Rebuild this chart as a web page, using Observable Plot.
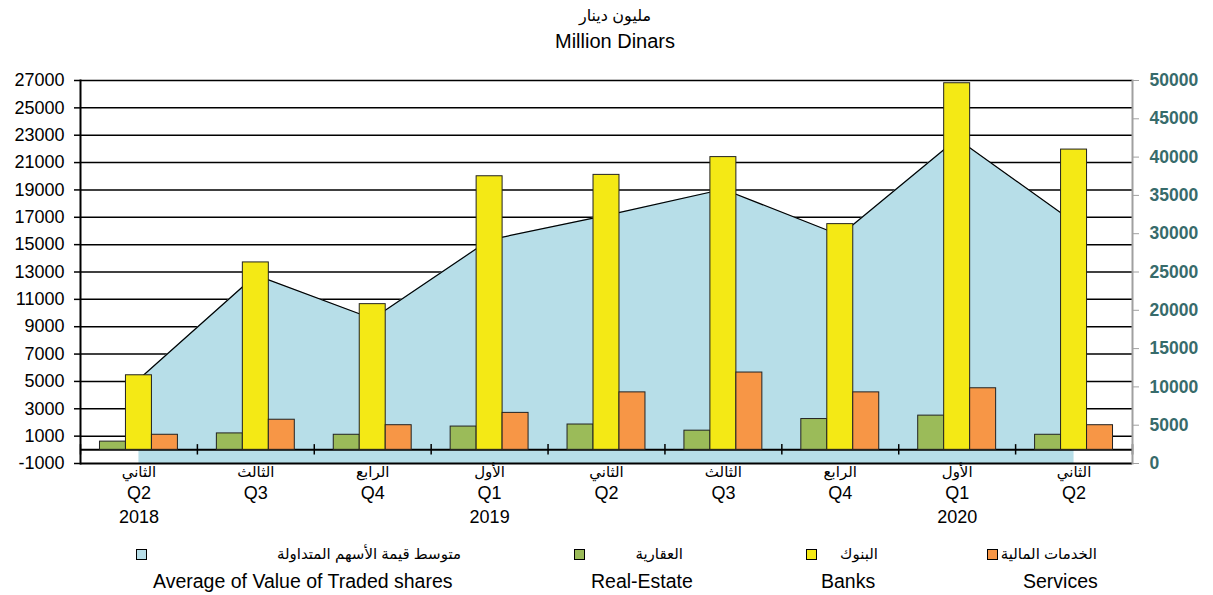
<!DOCTYPE html>
<html>
<head>
<meta charset="utf-8">
<script src="https://cdn.jsdelivr.net/npm/d3@7"></script>
<script src="https://cdn.jsdelivr.net/npm/@observablehq/plot@0.6"></script>
<style>
  body { margin: 0; background: #fff; font-family: "Liberation Sans", Arial, "DejaVu Sans", sans-serif; }
  #wrap { position: relative; width: 1213px; height: 595px; overflow: hidden; }
  #title { position: relative; width: 1213px; height: 60px; }
  #title .ar { position: absolute; left: 415px; width: 400px; top: 6px; text-align: center; font-size: 16px; color: #000; direction: rtl; }
  #title .en { position: absolute; left: 415px; width: 400px; top: 30px; text-align: center; font-size: 20px; color: #000; }
  #chart { position: relative; height: 470px; }
  #legend { position: relative; width: 1213px; height: 65px; }
  .sw { position: absolute; width: 9px; height: 9px; border: 1px solid #000; top: 19px; }
  .lar { position: absolute; top: 14px; font-size: 15px; direction: rtl; white-space: nowrap; color: #000; line-height: 20px; }
  .len { position: absolute; top: 40px; font-size: 19.5px; white-space: nowrap; color: #000; line-height: 22px; }
</style>
</head>
<body>
<div id="wrap">
  <div id="title">
    <div class="ar">مليون دينار</div>
    <div class="en">Million Dinars</div>
  </div>
  <div id="chart"></div>
  <div id="legend"></div>
</div>
<script>
// ---- Data ----
const periods = ["2018Q2", "2018Q3", "2018Q4", "2019Q1", "2019Q2", "2019Q3", "2019Q4", "2020Q1", "2020Q2"];
const quarterLabels = ["Q2", "Q3", "Q4", "Q1", "Q2", "Q3", "Q4", "Q1", "Q2"];
const quarterArabic = ["الثاني", "الثالث", "الرابع", "الأول", "الثاني", "الثالث", "الرابع", "الأول", "الثاني"];
const yearLabels = ["2018", "", "", "2019", "", "", "", "2020", ""];

const realEstate = [600, 1200, 1100, 1700, 1850, 1400, 2250, 2500, 1100];
const banks = [5450, 13700, 10650, 20000, 20100, 21400, 16500, 26800, 21950];
const services = [1100, 2200, 1800, 2700, 4200, 5650, 4200, 4500, 1800];
// right axis series
const avgTraded = [11000, 24600, 18900, 29200, 32400, 35800, 29800, 42400, 31500];

const leftTicks = [-1000, 1000, 3000, 5000, 7000, 9000, 11000, 13000, 15000, 17000, 19000, 21000, 23000, 25000, 27000];
const rightTicks = [0, 5000, 10000, 15000, 20000, 25000, 30000, 35000, 40000, 45000, 50000];

const seriesNames = {
  avg: ["متوسط قيمة الأسهم المتداولة", "Average of Value of Traded shares"],
  re: ["العقارية", "Real-Estate"],
  banks: ["البنوك", "Banks"],
  services: ["الخدمات المالية", "Services"]
};
const colors = { avg: "#b7dee8", re: "#9bbb59", banks: "#f4e915", services: "#f79646" };

// ---- Layout ----
const W = 1213, H = 470, mL = 80, mR = 81, mT = 20, mB = 67;
const bw = (W - mL - mR) / periods.length;
const leftMin = -1000, leftMax = 27000, rightMax = 50000;
const toLeft = v => leftMin + v * (leftMax - leftMin) / rightMax;

const rows = periods.map((k, i) => ({
  k, re: realEstate[i], b: banks[i], s: services[i], a: toLeft(avgTraded[i]),
  q: quarterLabels[i], qa: quarterArabic[i], yr: yearLabels[i]
}));

const font = '"Liberation Sans", Arial, "DejaVu Sans", sans-serif';

const chart = Plot.plot({
  width: W, height: H,
  marginLeft: mL, marginRight: mR, marginTop: mT, marginBottom: mB,
  x: { type: "band", domain: periods, padding: 0, round: false, axis: null },
  y: { domain: [leftMin, leftMax], axis: null },
  style: { fontFamily: font, background: "white", color: "#000" },
  marks: [
    Plot.ruleY(leftTicks.filter(d => d > leftMin), { stroke: "#000", strokeWidth: 1.5 }),
    Plot.areaY(rows, { x: "k", y1: leftMin, y2: "a", fill: colors.avg }),
    Plot.lineY(rows, { x: "k", y: "a", stroke: "#000", strokeWidth: 1.2 }),
    Plot.ruleY([0], { stroke: "#000", strokeWidth: 2 }),
    Plot.ruleY([leftMin], { stroke: "#000", strokeWidth: 2 }),
    Plot.ruleX(rows, { x: "k", y1: -380, y2: 380, dx: -bw / 2, stroke: "#000", strokeWidth: 1.5 }),
    Plot.ruleX(rows.slice(-1), { x: "k", y1: -380, y2: 380, dx: bw / 2, stroke: "#000", strokeWidth: 1.5 }),
    Plot.barY(rows, { x: "k", y: "re", fill: colors.re, stroke: "#222", strokeWidth: 1, insetLeft: bw / 6, insetRight: bw * 11 / 18 }),
    Plot.barY(rows, { x: "k", y: "b", fill: colors.banks, stroke: "#222", strokeWidth: 1, insetLeft: bw * 7 / 18, insetRight: bw * 7 / 18 }),
    Plot.barY(rows, { x: "k", y: "s", fill: colors.services, stroke: "#222", strokeWidth: 1, insetLeft: bw * 11 / 18, insetRight: bw / 6 }),
    Plot.axisY(leftTicks, { anchor: "left", tickSize: 6, tickPadding: 10, fontSize: 18, tickFormat: d => String(d), label: null, color: "#000", strokeWidth: 1.5 }),
    Plot.frame({ anchor: "left", stroke: "#000", strokeWidth: 2 }),
    Plot.frame({ anchor: "right", stroke: "#a0a0a0", strokeWidth: 2 }),
    Plot.axisY(rightTicks.map(toLeft), { anchor: "right", tickSize: 6, tickFormat: () => "", label: null, color: "#a0a0a0" }),
    Plot.text(rightTicks, { y: toLeft, text: d => String(d), frameAnchor: "right", dx: 17, textAnchor: "start", fill: "#376b6b", fontWeight: "bold", fontSize: 17.5 }),
    Plot.text(rows, { x: "k", y: leftMin, text: "qa", dy: 9, fontSize: 15, fill: "#000", lineAnchor: "middle" }),
    Plot.text(rows, { x: "k", y: leftMin, text: "q", dy: 30, fontSize: 18, fill: "#000", lineAnchor: "middle" }),
    Plot.text(rows, { x: "k", y: leftMin, text: "yr", dy: 54, fontSize: 18, fill: "#000", lineAnchor: "middle" })
  ]
});
document.getElementById("chart").appendChild(chart);

// ---- Legend ----
const legendItems = [
  { key: "avg", sq: 136, arRight: 461, enLeft: 153 },
  { key: "re", sq: 574, arRight: 683, enLeft: 591 },
  { key: "banks", sq: 806, arRight: 878, enLeft: 821 },
  { key: "services", sq: 987, arRight: 1097, enLeft: 1023 }
];
const lg = document.getElementById("legend");
for (const it of legendItems) {
  const sw = document.createElement("div");
  sw.className = "sw"; sw.style.left = it.sq + "px"; sw.style.background = colors[it.key];
  lg.appendChild(sw);
  const ar = document.createElement("div");
  ar.className = "lar"; ar.style.right = (1213 - it.arRight) + "px"; ar.textContent = seriesNames[it.key][0];
  lg.appendChild(ar);
  const en = document.createElement("div");
  en.className = "len"; en.style.left = it.enLeft + "px"; en.textContent = seriesNames[it.key][1];
  lg.appendChild(en);
}
</script>
</body>
</html>
